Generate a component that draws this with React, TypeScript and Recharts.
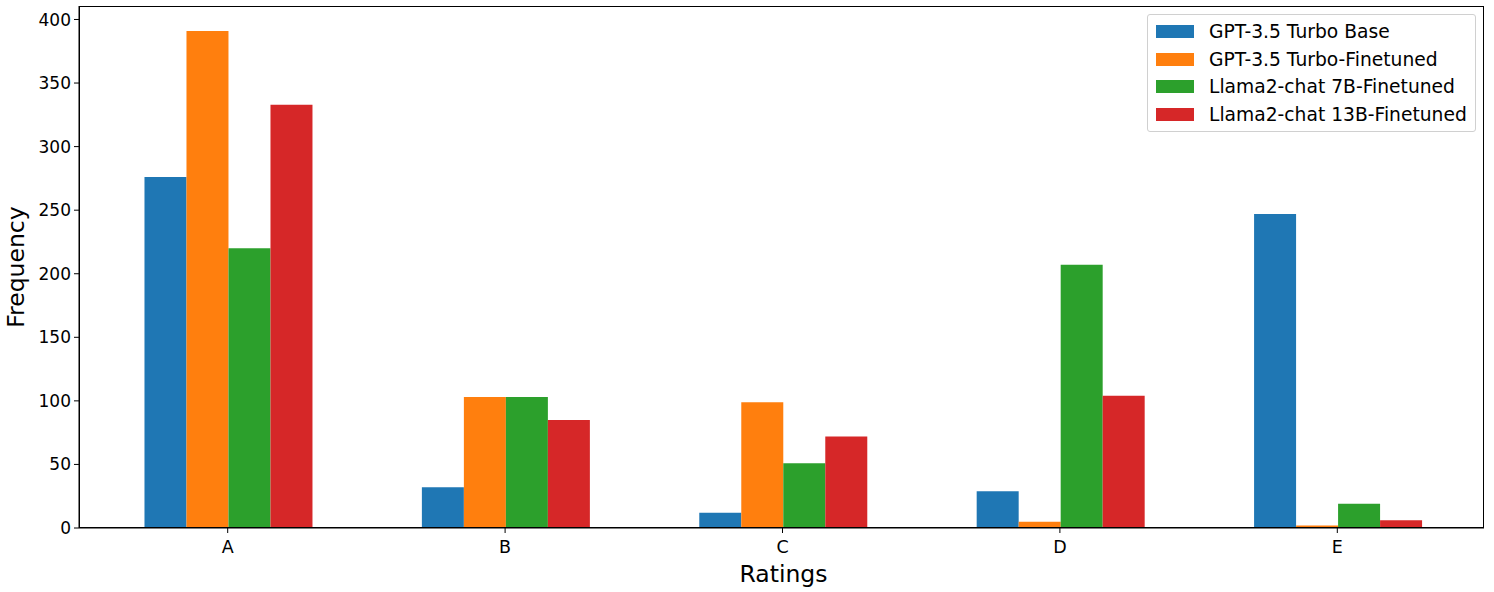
import React from "react";
import { BarChart, Bar, XAxis, YAxis } from "recharts";

// ratings on the x axis
const categories = ["A", "B", "C", "D", "E"];

// frequency per rating, one list per model
const gptBase = [276, 32, 12, 29, 247];
const gptFinetuned = [391, 103, 99, 5, 2];
const llama7b = [220, 103, 51, 207, 19];
const llama13b = [333, 85, 72, 104, 6];

const yTicks = [0, 50, 100, 150, 200, 250, 300, 350, 400];

const series = [
  { key: "gptBase", name: "GPT-3.5 Turbo Base", color: "#1f77b4" },
  { key: "gptFinetuned", name: "GPT-3.5 Turbo-Finetuned", color: "#ff7f0e" },
  { key: "llama7b", name: "Llama2-chat 7B-Finetuned", color: "#2ca02c" },
  { key: "llama13b", name: "Llama2-chat 13B-Finetuned", color: "#d62728" },
];

const data = categories.map((c, i) => ({
  rating: c,
  gptBase: gptBase[i],
  gptFinetuned: gptFinetuned[i],
  llama7b: llama7b[i],
  llama13b: llama13b[i],
}));

const FONT = "'DejaVu Sans', sans-serif";

function LegendBox() {
  return (
    <div
      style={{
        position: "absolute",
        left: 1147,
        top: 14,
        width: 329,
        boxSizing: "border-box",
        border: "1px solid #d0d0d0",
        borderRadius: 3,
        background: "rgba(255,255,255,0.8)",
        padding: "3px 8px 3px 8px",
        fontFamily: FONT,
        fontSize: 18.7,
        color: "#000",
        whiteSpace: "nowrap",
      }}
    >
      {series.map((s) => (
        <div key={s.key} style={{ display: "flex", alignItems: "center", height: 27.5 }}>
          <span style={{ width: 38, height: 13, background: s.color, display: "inline-block", marginRight: 15, flexShrink: 0 }} />
          <span>{s.name}</span>
        </div>
      ))}
    </div>
  );
}

export default function App() {
  return (
    <div style={{ position: "absolute", left: 0, top: 0, width: 1494, height: 592, background: "#fff" }}>
      <BarChart
        width={1494}
        height={592}
        data={data}
        margin={{ top: 6, right: 10, left: 0, bottom: 0 }}
        barCategoryGap="20%"
        barGap={0}
      >
        <XAxis
          dataKey="rating"
          height={64}
          padding={{ left: 10, right: 8 }}
          tickSize={5}
          tickMargin={8}
          stroke="#000"
          tick={{ fill: "#000", fontSize: 17.5, fontFamily: FONT }}
          label={(props: any) => {
            const vb = props.viewBox || {};
            const cx = (vb.x ?? 79) + (vb.width ?? 1405) / 2;
            return (
              <text x={cx + 2} y={574} textAnchor="middle" dominantBaseline="central" fill="#000" fontSize={23.5} fontFamily={FONT}>
                Ratings
              </text>
            );
          }}
        />
        <YAxis
          width={79}
          domain={[0, 410.6]}
          ticks={yTicks}
          tickSize={5}
          tickMargin={3}
          stroke="#000"
          tick={{ fill: "#000", fontSize: 17, fontFamily: FONT }}
          label={(props: any) => {
            const vb = props.viewBox || {};
            const cy = (vb.y ?? 6) + (vb.height ?? 522) / 2;
            return (
              <text
                x={16}
                y={cy}
                transform={`rotate(-90, 16, ${cy})`}
                textAnchor="middle"
                dominantBaseline="central"
                fill="#000"
                fontSize={23.5}
                fontFamily={FONT}
              >
                Frequency
              </text>
            );
          }}
        />
        {series.map((s) => (
          <Bar key={s.key} dataKey={s.key} name={s.name} fill={s.color} isAnimationActive={false} />
        ))}
      </BarChart>
      {/* axes frame */}
      <div
        style={{
          position: "absolute",
          left: 79,
          top: 6,
          width: 1405,
          height: 522,
          boxSizing: "border-box",
          border: "1px solid #000",
          pointerEvents: "none",
        }}
      />
      <LegendBox />
    </div>
  );
}
